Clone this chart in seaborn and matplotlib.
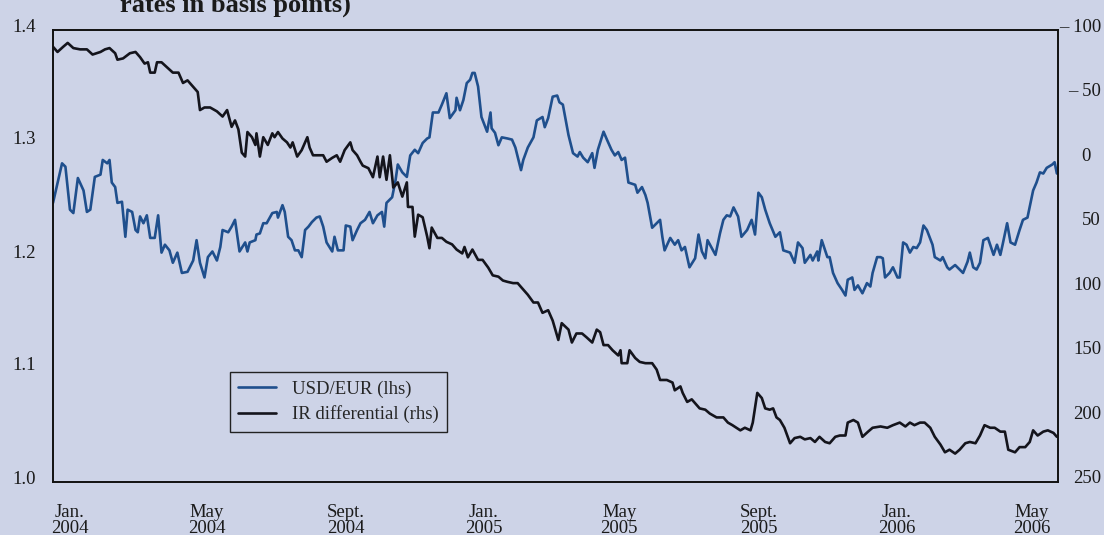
import numpy as np
import pandas as pd
import matplotlib
matplotlib.use("Agg")
import matplotlib.pyplot as plt
import matplotlib.transforms as mtransforms
from matplotlib.lines import Line2D
import seaborn as sns

# ---------------- data (days since 2004-01-01, values) ----------------
usd_days = [-15, -7, -4, 0, 3, 7, 12, 15, 18, 22, 27, 29, 33, 35, 37, 40, 42, 46, 49, 51,
            55, 58, 60, 62, 65, 68, 71, 75, 78, 81, 84, 88, 91, 95, 99, 104, 106, 109, 112, 115,
            119, 122, 126, 130, 133, 135, 140, 143, 146, 150, 155, 157, 159, 164, 165, 168, 171, 174, 179, 183,
            184, 188, 190, 193, 196, 199, 202, 205, 208, 211, 214, 218, 221, 224, 227, 232, 234, 237, 242, 244,
            248, 250, 254, 257, 261, 265, 268, 272, 276, 278, 280, 285, 288, 290, 294, 298, 301, 305, 308, 312,
            316, 318, 321, 326, 329, 333, 336, 341, 342, 345, 348, 351, 354, 356, 358, 361, 364, 369, 372, 373,
            376, 379, 382, 387, 391, 394, 396, 399, 401, 405, 410, 413, 418, 420, 423, 427, 431, 433, 436, 441,
            445, 449, 451, 454, 458, 462, 464, 467, 472, 475, 479, 482, 485, 488, 491, 494, 500, 502, 506, 509,
            511, 515, 519, 522, 524, 526, 531, 535, 538, 541, 544, 548, 553, 556, 559, 562, 564, 571, 575, 578,
            581, 584, 587, 591, 594, 599, 603, 606, 609, 612, 615, 619, 624, 628, 631, 637, 641, 644, 648, 650,
            655, 657, 661, 662, 665, 670, 672, 675, 679, 683, 686, 688, 692, 694, 697, 701, 705, 708, 710, 714,
            717, 719, 721, 725, 728, 732, 734, 737, 740, 743, 746, 749, 752, 755, 758, 763, 765, 770, 772, 776,
            778, 783, 786, 790, 794, 796, 799, 802, 805, 808, 812, 817, 820, 823, 825, 829, 832, 836, 840, 843,
            847, 852, 855, 858, 861, 864, 869, 871, 873]
usd_eur = [1.247, 1.282, 1.279, 1.241, 1.238, 1.269, 1.258, 1.239, 1.241, 1.270, 1.272, 1.285, 1.282, 1.285, 1.265, 1.261, 1.247, 1.248, 1.217, 1.241,
           1.239, 1.223, 1.221, 1.235, 1.229, 1.236, 1.216, 1.216, 1.236, 1.203, 1.210, 1.205, 1.194, 1.203, 1.185, 1.186, 1.190, 1.196, 1.214, 1.194,
           1.181, 1.199, 1.204, 1.196, 1.208, 1.223, 1.221, 1.226, 1.232, 1.204, 1.212, 1.204, 1.212, 1.214, 1.219, 1.220, 1.229, 1.229, 1.238, 1.239,
           1.234, 1.245, 1.239, 1.217, 1.214, 1.205, 1.205, 1.199, 1.223, 1.226, 1.230, 1.234, 1.235, 1.226, 1.212, 1.204, 1.217, 1.205, 1.205, 1.227,
           1.226, 1.214, 1.223, 1.229, 1.232, 1.239, 1.229, 1.236, 1.239, 1.226, 1.247, 1.252, 1.267, 1.281, 1.274, 1.270, 1.289, 1.294, 1.291, 1.300,
           1.304, 1.305, 1.327, 1.327, 1.334, 1.344, 1.322, 1.329, 1.340, 1.329, 1.338, 1.353, 1.356, 1.362, 1.362, 1.350, 1.323, 1.310, 1.327, 1.313,
           1.309, 1.298, 1.305, 1.304, 1.303, 1.296, 1.288, 1.276, 1.285, 1.296, 1.305, 1.320, 1.323, 1.314, 1.322, 1.341, 1.342, 1.336, 1.334, 1.307,
           1.291, 1.288, 1.292, 1.287, 1.283, 1.291, 1.278, 1.294, 1.310, 1.303, 1.294, 1.289, 1.292, 1.285, 1.287, 1.265, 1.263, 1.256, 1.261, 1.254,
           1.247, 1.225, 1.229, 1.232, 1.217, 1.205, 1.216, 1.210, 1.214, 1.205, 1.208, 1.190, 1.198, 1.219, 1.204, 1.198, 1.214, 1.201, 1.220, 1.232,
           1.236, 1.235, 1.243, 1.235, 1.217, 1.223, 1.232, 1.219, 1.256, 1.252, 1.241, 1.229, 1.217, 1.221, 1.205, 1.203, 1.194, 1.212, 1.207, 1.194,
           1.201, 1.196, 1.204, 1.196, 1.214, 1.199, 1.199, 1.185, 1.176, 1.170, 1.165, 1.179, 1.181, 1.170, 1.174, 1.167, 1.176, 1.173, 1.185, 1.199,
           1.199, 1.198, 1.181, 1.185, 1.190, 1.181, 1.181, 1.212, 1.210, 1.203, 1.208, 1.207, 1.212, 1.227, 1.223, 1.210, 1.199, 1.196, 1.199, 1.190,
           1.188, 1.192, 1.189, 1.185, 1.195, 1.203, 1.190, 1.188, 1.194, 1.214, 1.216, 1.201, 1.210, 1.201, 1.210, 1.229, 1.212, 1.210, 1.223, 1.232,
           1.234, 1.258, 1.265, 1.274, 1.273, 1.278, 1.281, 1.283, 1.273]

ir_days = [-15, -11, -6, -2, 3, 9, 15, 20, 27, 31, 35, 40, 42, 47, 53, 58, 62, 66, 69, 71,
           75, 77, 81, 86, 91, 96, 100, 104, 109, 113, 115, 119, 124, 130, 135, 139, 143, 146, 149, 152,
           155, 157, 161, 164, 165, 168, 171, 175, 179, 181, 184, 188, 192, 195, 197, 201, 205, 210, 212, 215,
           219, 224, 227, 232, 236, 239, 243, 248, 250, 254, 257, 259, 264, 268, 272, 274, 277, 280, 283, 286,
           290, 294, 298, 299, 303, 305, 308, 312, 316, 318, 320, 325, 329, 333, 338, 342, 347, 349, 352, 356,
           361, 365, 370, 374, 379, 383, 387, 392, 396, 401, 405, 410, 414, 418, 423, 427, 432, 435, 441, 444,
           448, 453, 457, 462, 466, 469, 472, 476, 480, 485, 487, 488, 493, 495, 500, 504, 509, 515, 519, 522,
           528, 533, 535, 540, 542, 546, 550, 553, 557, 562, 566, 572, 578, 582, 586, 593, 597, 602, 604, 608,
           612, 615, 619, 622, 625, 628, 632, 637, 641, 646, 650, 655, 659, 663, 668, 672, 677, 681, 686, 688,
           693, 697, 701, 706, 710, 717, 723, 728, 734, 739, 743, 747, 752, 756, 761, 765, 770, 774, 778, 783,
           787, 792, 796, 801, 805, 809, 814, 818, 823, 827, 830, 836, 840, 845, 849, 852, 856, 861, 865, 870,
           873]
ir_diff = [-87, -83, -87, -90, -86, -85, -85, -81, -83, -85, -86, -82, -77, -78, -82, -83, -79, -74, -75, -67,
           -67, -75, -75, -71, -67, -67, -59, -61, -56, -52, -38, -40, -40, -37, -33, -38, -25, -30, -23, -5,
           -2, -21, -17, -11, -20, -2, -17, -11, -20, -17, -21, -16, -13, -9, -13, -2, -7, -17, -9, -3,
           -3, -3, 2, -1, -3, 2, -7, -13, -7, -3, 2, 5, 7, 14, -2, 14, -2, 16, -3, 22,
           18, 29, 18, 37, 37, 60, 43, 45, 60, 69, 53, 61, 61, 64, 66, 70, 73, 68, 76, 70,
           78, 78, 84, 90, 91, 94, 95, 96, 96, 101, 105, 111, 111, 119, 117, 125, 140, 127, 132, 142,
           135, 135, 138, 142, 132, 134, 144, 144, 148, 152, 148, 158, 158, 148, 154, 157, 158, 158, 163, 171,
           171, 173, 179, 176, 181, 188, 186, 189, 193, 194, 197, 200, 200, 204, 206, 210, 208, 210, 204, 181,
           185, 193, 194, 193, 200, 202, 208, 220, 216, 215, 217, 216, 219, 215, 219, 220, 215, 214, 214, 204,
           202, 204, 215, 211, 208, 207, 208, 206, 204, 207, 204, 206, 204, 204, 208, 215, 221, 227, 225, 228,
           225, 220, 219, 220, 214, 206, 208, 208, 211, 211, 225, 227, 223, 223, 219, 210, 214, 211, 210, 212,
           215]

left_ticks = [1.0, 1.1, 1.2, 1.3, 1.4]
left_labels = ["1.0", "1.1", "1.2", "1.3", "1.4"]
right_ticks = [-100, -50, 0, 50, 100, 150, 200, 250]
right_labels = ["\u2013 100", "\u2013 50", "0\u2002", "50", "100", "150", "200", "250"]
x_tick_dates = ["2004-01-01", "2004-05-01", "2004-09-01", "2005-01-01",
                "2005-05-01", "2005-09-01", "2006-01-01", "2006-05-01"]
x_labels = ["Jan.\n2004", "May\n2004", "Sept.\n2004", "Jan.\n2005",
            "May\n2005", "Sept.\n2005", "Jan.\n2006", "May\n2006"]
series_names = ["USD/EUR (lhs)", "IR differential (rhs)"]

# ---------------- frames ----------------
base = pd.Timestamp("2004-01-01")
df_usd = pd.DataFrame({"date": base + pd.to_timedelta(usd_days, unit="D"), "value": usd_eur})
df_ir = pd.DataFrame({"date": base + pd.to_timedelta(ir_days, unit="D"), "value": ir_diff})

# ---------------- style ----------------
bg = "#cdd3e7"
blue = "#1f4f8d"
black = "#14141c"
txt = "#1a1a1a"
fs = 13.5
sns.set_theme(style="white")
plt.rcParams["font.family"] = ["Liberation Serif", "DejaVu Serif"]
plt.rcParams["axes.unicode_minus"] = False

fig = plt.figure(figsize=(11.04, 5.35), dpi=100, facecolor=bg)
ax = fig.add_axes([53 / 1104, 1 - 482 / 535, 1005 / 1104, 452 / 535])
ax.set_facecolor(bg)

sns.lineplot(data=df_usd, x="date", y="value", ax=ax, color=blue, linewidth=1.9,
             label=series_names[0], legend=False)
ax2 = ax.twinx()
sns.lineplot(data=df_ir, x="date", y="value", ax=ax2, color=black, linewidth=1.9,
             label=series_names[1], legend=False)

ax.set_xlim(pd.Timestamp("2003-12-17"), pd.Timestamp("2006-05-24"))
ax.set_ylim(1.0, 1.4)
ax2.set_ylim(250, -100)

ax.set_xlabel("")
ax.set_ylabel("")
ax2.set_ylabel("")

ax.set_xticks(pd.to_datetime(x_tick_dates))
ax.set_xticklabels(x_labels, fontsize=fs, color=txt, linespacing=0.92)
ax.set_yticks(left_ticks)
ax.set_yticklabels(left_labels, fontsize=fs, color=txt)
ax2.set_yticks(right_ticks)
ax2.set_yticklabels(right_labels, fontsize=fs, color=txt, ha="right")

ax.tick_params(axis="x", length=0, pad=16)
ax.tick_params(axis="y", length=0, pad=12)
ax2.tick_params(axis="y", length=0, pad=31)

shift = mtransforms.ScaledTranslation(0, 5 / 100, fig.dpi_scale_trans)
for lab in ax.get_yticklabels() + ax2.get_yticklabels():
    lab.set_transform(lab.get_transform() + shift)

for a in (ax, ax2):
    for s in a.spines.values():
        s.set_visible(True)
        s.set_color("#111111")
        s.set_linewidth(1.2)
    a.grid(False)

handles = [Line2D([0], [0], color=blue, lw=1.9), Line2D([0], [0], color=black, lw=1.9)]
leg = ax2.legend(handles, series_names, loc="upper left",
                 bbox_to_anchor=((230 - 53) / 1005, (482 - 372) / 452),
                 borderaxespad=0, frameon=True, fancybox=False, fontsize=fs,
                 handlelength=2.0, handletextpad=0.85, borderpad=0.45, labelspacing=0.4)
leg.get_frame().set_facecolor(bg)
leg.get_frame().set_edgecolor("#222222")
leg.get_frame().set_linewidth(1.0)
leg.get_frame().set_alpha(1)

fig.text(120 / 1104, 1 - 12 / 535, "rates in basis points)", fontsize=19,
         fontweight="bold", color=txt, ha="left", va="baseline")

fig.savefig("out.png", dpi=100, facecolor=bg)
